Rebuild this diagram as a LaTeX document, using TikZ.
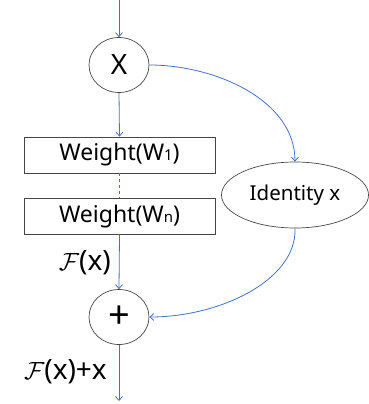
\documentclass[tikz,border=0pt]{standalone}
\usepackage{fontspec}
\setmainfont{Noto Sans}
\usetikzlibrary{arrows.meta,shapes.geometric}
\definecolor{lineblue}{RGB}{68,114,196}
\definecolor{edgegray}{RGB}{70,70,70}
\tikzset{
  conn/.style={draw=lineblue, line width=0.8pt, -{Straight Barb[length=4pt,width=7pt]}},
  opcircle/.style={ellipse, draw=edgegray, line width=0.7pt, minimum width=60pt, minimum height=55pt, inner sep=0pt, font=\fontsize{28}{30}\selectfont},
  wbox/.style={rectangle, draw=edgegray, line width=0.7pt, minimum width=191pt, minimum height=36pt, inner sep=0pt, font=\fontsize{23}{25}\selectfont},
  idell/.style={ellipse, draw=edgegray, line width=0.7pt, minimum width=147pt, minimum height=66pt, inner sep=0pt, font=\fontsize{20.5}{23}\selectfont},
  lbl/.style={inner sep=0pt, font=\fontsize{28}{30}\selectfont}
}
\newcommand{\smallsub}[1]{{\fontsize{15}{16}\selectfont #1}}
\begin{document}
\begin{tikzpicture}[x=1pt,y=-1pt]
\useasboundingbox (0,0) rectangle (369,404);
\coordinate (top) at (119,0);
\node[opcircle] (mul) at (119,65) {X};
\node[wbox] (w1) at (119.5,155) {Weight(W\smallsub{1})};
\node[wbox] (wn) at (119.5,216.5) {Weight(W\smallsub{n})};
\node[idell] (id) at (295,195) {Identity x};
\node[opcircle, font=\fontsize{38}{40}\selectfont] (plus) at (119,317) {+};
\coordinate (bot) at (119,401);
\node[lbl, anchor=east] (fx) at (111,263) {$\mathcal{F}$(x)};
\node[lbl, anchor=east] (fxx) at (107,372) {$\mathcal{F}$(x)+x};
\draw[conn] (top) -- (mul.north);
\draw[conn] (mul.south) -- (w1.north);
\draw[lineblue, line width=0.6pt, dashed] (w1.south) -- (wn.north);
\draw[conn] (wn.south) -- (plus.north);
\draw[conn] (plus.south) -- (bot);
\draw[conn] (mul.east) .. controls (215,65) and (295,100) .. (id.north);
\draw[conn] (id.south) .. controls (297,280) and (220,317) .. (plus.east);
\end{tikzpicture}
\end{document}
